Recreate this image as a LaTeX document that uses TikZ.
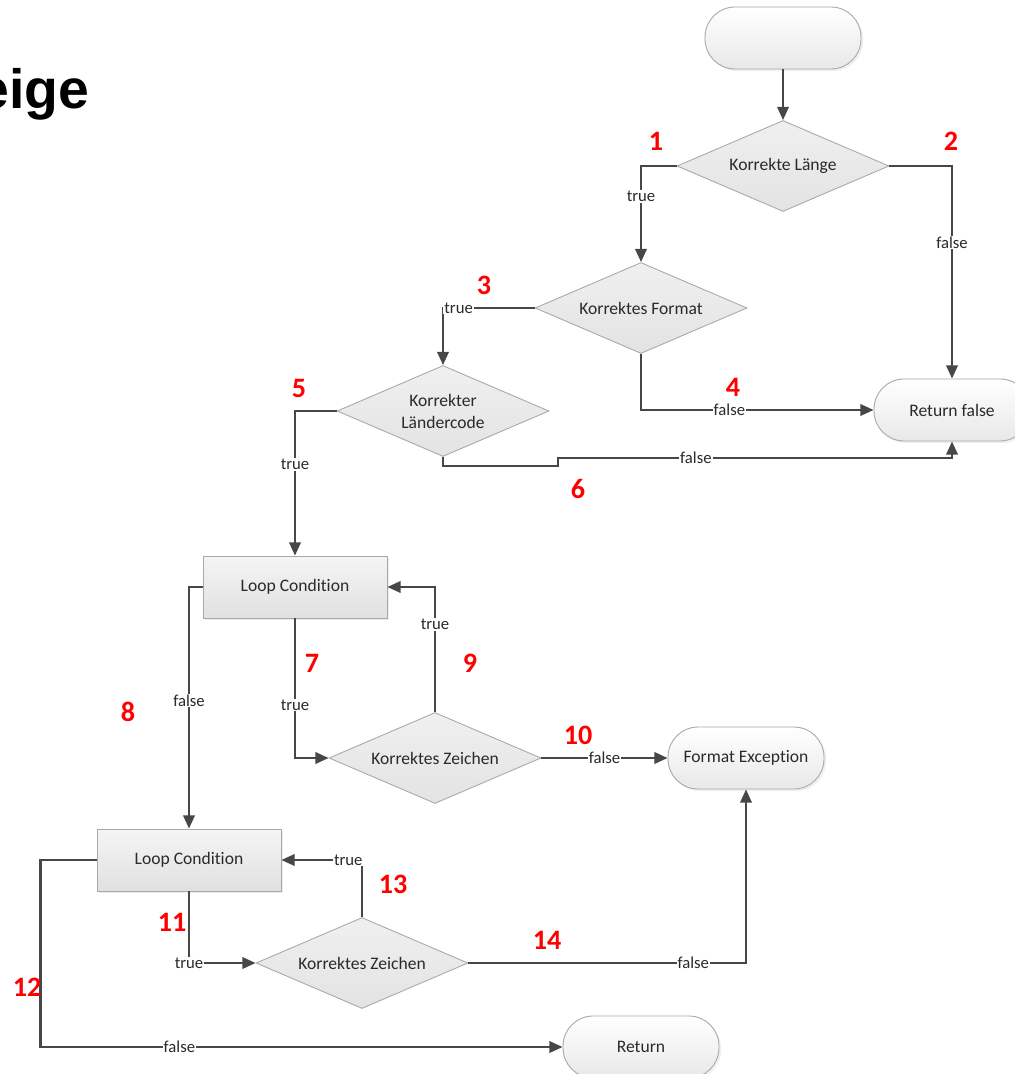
\documentclass[tikz,border=0pt]{standalone}
\usepackage{fontspec}
\setmainfont[Ligatures=NoCommon]{Carlito}
\newfontfamily\titlefont{Liberation Sans}
\usetikzlibrary{shapes.geometric,arrows.meta,shadows}

\definecolor{linegray}{HTML}{474747}
\definecolor{framegray}{HTML}{A8A8A8}
\definecolor{txtgray}{HTML}{2A2A2A}

\tikzset{
	decision/.style={diamond, shape aspect=2.33, draw=framegray, line width=0.5pt, top color=white!94!black, bottom color=white!89!black, inner sep=0pt, minimum width=4.24cm, minimum height=1.82cm, align=center, text=txtgray, font=\fontsize{10}{12.5}\selectfont},
	terminal/.style={rectangle, rounded corners=0.6cm, draw=framegray, line width=0.5pt, top color=white, bottom color=white!91!black, minimum width=3.12cm, minimum height=1.24cm, text=txtgray, font=\fontsize{10}{12}\selectfont, drop shadow={opacity=0.12, shadow xshift=1.2pt, shadow yshift=-1.2pt}},
	process/.style={rectangle, draw=framegray, line width=0.5pt, top color=white!96!black, bottom color=white!88!black, minimum width=3.68cm, minimum height=1.24cm, text=txtgray, font=\fontsize{10}{12}\selectfont, drop shadow={opacity=0.15, shadow xshift=1.2pt, shadow yshift=-1.2pt}},
	flow/.style={draw=linegray, line width=1.3pt, -{Triangle[length=7.5pt,width=6.5pt]}},
	lbl/.style={fill=white, inner sep=0.6pt, text=txtgray, font=\fontsize{9.5}{11}\selectfont},
	nr/.style={text=red, inner sep=0pt, font=\fontsize{16}{16}\selectfont\bfseries},
}

\begin{document}
\begin{tikzpicture}[x=0.02cm, y=-0.02cm]
				\useasboundingbox (0,0) rectangle (1014,1074);

				\node[anchor=base west, inner sep=0pt, font=\titlefont\bfseries\fontsize{31.5}{32}\selectfont] (titel) at (-22,109) {eige};

				% Knoten
				\node[terminal] (start) at (783,38) {};
				\node[decision] (laenge) at (783,166) {Korrekte Länge};
				\node[decision] (format) at (641,308) {Korrektes Format};
				\node[decision] (land) at (443,411) {Korrekter\\Ländercode};
				\node[terminal] (retfalse) at (952,410) {Return false};

				\node[process] (loopA) at (295,587) {Loop Condition};
				\node[decision] (zeichenA) at (435,758) {Korrektes Zeichen};
				\node[terminal] (fmtexc) at (746,758) {Format Exception};

				\node[process] (loopB) at (189,860) {Loop Condition};
				\node[decision] (zeichenB) at (362,963) {Korrektes Zeichen};
				\node[terminal] (ret) at (641,1047) {Return};

				% Kanten
				\draw[flow] (start) -- (laenge);
				\draw[flow] (laenge.west) -| node[lbl, pos=0.66] {true} (format.north); % 1
				\draw[flow] (laenge.east) -| node[lbl, pos=0.68] {false} (retfalse.north); % 2
				\draw[flow] (format.west) -| node[lbl, pos=0.415] {true} (land.north); % 3
				\draw[flow] (format.south) |- node[lbl, pos=0.69] {false} (retfalse.west); % 4
				\draw[flow] (land.west) -| node[lbl, pos=0.685] {true} (loopA.north); % 5
				\draw[flow] (land.south) |- (558,466) -- (558,458) -| node[lbl, pos=0.175] {false} (retfalse.south); % 6

				\draw[flow] (loopA.south) |- node[lbl, pos=0.31] {true} (zeichenA.west); % 7
				\draw[flow] (loopA.west) -| node[lbl, pos=0.735] {false} (loopB.north); % 8
				\draw[flow] (zeichenA.north) |- node[lbl, pos=0.35] {true} (loopA.east); % 9
				\draw[flow] (zeichenA.east) -- node[lbl] {false} (fmtexc.west); % 10

				\draw[flow] (loopB.south) |- node[lbl, pos=0.5] {true} (zeichenB.west); % 11
				\draw[flow] (loopB.west) -- ++(-56,0) |- node[lbl, pos=0.633] {false} (ret.west); % 12
				\draw[flow] (zeichenB.north) |- node[lbl, pos=0.585] {true} (loopB.east); % 13
				\draw[flow] (zeichenB.east) -| node[lbl, pos=0.405] {false} (fmtexc.south); % 14

				% Nummern
				\node[nr] (n1) at (656,141) {1};
				\node[nr] (n2) at (951,141) {2};
				\node[nr] (n3) at (484,285) {3};
				\node[nr] (n4) at (733,387) {4};
				\node[nr] (n5) at (299,388) {5};
				\node[nr] (n6) at (578,489) {6};
				\node[nr] (n7) at (312,663) {7};
				\node[nr] (n8) at (128,712) {8};
				\node[nr] (n9) at (470,663) {9};
				\node[nr] (n10) at (578,735) {10};
				\node[nr] (n11) at (172,922) {11};
				\node[nr] (n12) at (27,987) {12};
				\node[nr] (n13) at (393,884) {13};
				\node[nr] (n14) at (547,940) {14};
\end{tikzpicture}
\end{document}
